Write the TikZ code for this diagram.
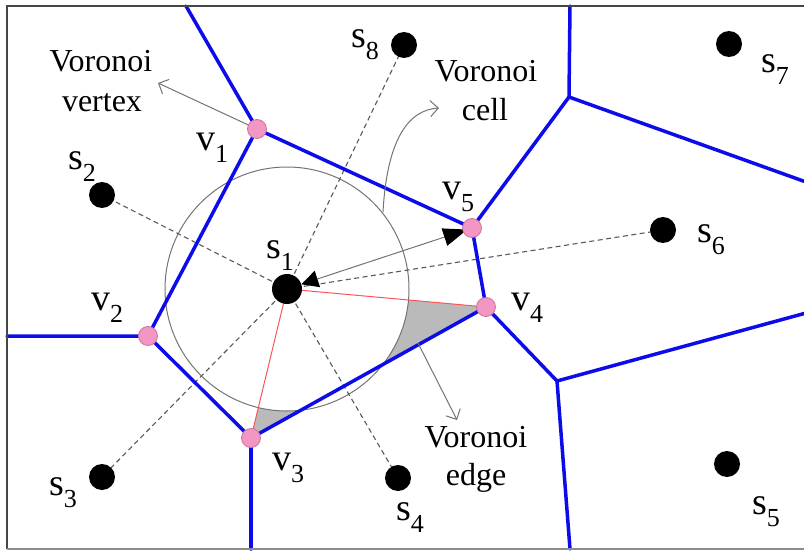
\documentclass[tikz,border=0pt]{standalone}
\usepackage{fontspec}
\setmainfont{Liberation Serif}
\usetikzlibrary{arrows.meta}
\definecolor{vblue}{RGB}{12,12,235}
\definecolor{vpink}{RGB}{242,150,196}
\definecolor{vpinkd}{RGB}{205,115,155}
\definecolor{vred}{RGB}{250,85,85}
\definecolor{frm}{RGB}{70,70,70}
\newcommand{\sublab}[2]{#1\raisebox{-12pt}{\fontsize{26}{28}\selectfont #2}}
\pgfdeclarelayer{bg}
\pgfsetlayers{bg,main}
\begin{document}
\begin{tikzpicture}[x=1pt,y=-1pt,
  vedge/.style={vblue, line width=3.5pt, line cap=round, line join=round},
  site/.style={circle, fill=black, inner sep=0pt, minimum size=26pt},
  bigsite/.style={circle, fill=black, inner sep=0pt, minimum size=30pt},
  vert/.style={circle, fill=vpink, draw=vpinkd, line width=0.8pt, inner sep=0pt, minimum size=19pt},
  dashln/.style={dash pattern=on 5pt off 3.5pt, line width=1.1pt, black!65},
  redln/.style={vred, line width=1pt},
  gln/.style={black!55, line width=1pt},
  lab/.style={font=\fontsize{38}{40}\selectfont, inner sep=0pt},
  txt/.style={font=\fontsize{32}{40}\selectfont, inner sep=0pt, anchor=base},
]
\useasboundingbox (0,0) rectangle (804,551);
% frame
\draw[frm, line width=1.8pt] (806,6) -- (7,6) -- (7,549);
\draw[black!45, line width=1.5pt] (7,549) -- (806,549);

% sites
\node[bigsite] (s1) at (287,289) {};
\node[site] (s2) at (102,195) {};
\node[site] (s3) at (102,477) {};
\node[site] (s4) at (398,478) {};
\node[site] (s5) at (727,464) {};
\node[site] (s6) at (663,230) {};
\node[site] (s7) at (729,44) {};
\node[site] (s8) at (404,45) {};

% Voronoi vertices
\node[vert] (v1) at (257,129) {};
\node[vert] (v2) at (148,336) {};
\node[vert] (v3) at (251,438) {};
\node[vert] (v4) at (486,307) {};
\node[vert] (v5) at (472,228) {};
\coordinate (A) at (569,97);
\coordinate (B) at (557,381);
\coordinate (e1) at (186,6);
\coordinate (e2) at (7,336);
\coordinate (e3) at (251,549);
\coordinate (e4) at (570,6);
\coordinate (e5) at (806,182);
\coordinate (e6) at (806,313);
\coordinate (e7) at (570,549);

\begin{pgfonlayer}{bg}
  % shaded parts of triangle s1 v3 v4 outside the circle
  \begin{scope}
    \clip (s1.center) -- (v3.center) -- (v4.center) -- cycle;
    \fill[black!27, even odd rule] (s1.center) circle (122) (0,0) rectangle (804,551);
  \end{scope}
  \draw[black!55, line width=1pt] (s1.center) circle (122);
  \draw[redln] (s1.center) -- (v3.center);
  \draw[redln] (s1.center) -- (v4.center);
  \draw[dashln] (s1.center) -- (s2.center);
  \draw[dashln] (s1.center) -- (s3.center);
  \draw[dashln] (s1.center) -- (s4.center);
  \draw[dashln] (s1.center) -- (s6.center);
  \draw[dashln] (s1.center) -- (s8.center);
  % Voronoi edges
  \draw[vedge] (e1) -- (v1.center) -- (v2.center) -- (e2);
  \draw[vedge] (v1.center) -- (v5.center) -- (v4.center) -- (v3.center) -- (v2.center);
  \draw[vedge] (v3.center) -- (e3);
  \draw[vedge] (v5.center) -- (A) -- (e4);
  \draw[vedge] (A) -- (e5);
  \draw[vedge] (v4.center) -- (B) -- (e6);
  \draw[vedge] (B) -- (e7);
  % annotation arrows
  \coordinate (vtip) at (158,83);
  \draw[gln, -{Straight Barb[length=8pt,width=16pt]}] (v1.center) -- (vtip);
  \coordinate (cA) at (383,212);
  \coordinate (cB) at (439,108);
  \draw[gln, -{Straight Barb[length=8pt,width=16pt]}] (cA) .. controls (387,140) and (408,110) .. (cB);
  \coordinate (eA) at (418,343);
  \coordinate (eB) at (457,420);
  \draw[gln, -{Straight Barb[length=8pt,width=16pt]}] (eA) -- (eB);
  \draw[gln, {Triangle[length=17pt,width=17pt,color=black]}-{Triangle[length=24pt,width=18pt,color=black]}, shorten <=15pt, shorten >=5pt] (s1.center) -- (v5.center);
\end{pgfonlayer}

% labels
\node[lab] (ls1) at (280,256) {\sublab{s}{1}};
\node[lab] (ls2) at (82,167) {\sublab{s}{2}};
\node[lab] (ls3) at (63,493) {\sublab{s}{3}};
\node[lab] (ls4) at (410,518) {\sublab{s}{4}};
\node[lab] (ls5) at (766,512) {\sublab{s}{5}};
\node[lab] (ls6) at (711,240) {\sublab{s}{6}};
\node[lab] (ls7) at (775,70) {\sublab{s}{7}};
\node[lab] (ls8) at (365,45) {\sublab{s}{8}};
\node[lab] (lv1) at (212,148) {\sublab{v}{1}};
\node[lab] (lv2) at (107,308) {\sublab{v}{2}};
\node[lab] (lv3) at (288,468) {\sublab{v}{3}};
\node[lab] (lv4) at (527,308) {\sublab{v}{4}};
\node[lab] (lv5) at (458,197) {\sublab{v}{5}};

\node[txt] (tv1) at (101,72) {Voronoi};
\node[txt] (tv2) at (102,112) {vertex};
\node[txt] (tc1) at (486,82) {Voronoi};
\node[txt] (tc2) at (485,121) {cell};
\node[txt] (te1) at (476,447) {Voronoi};
\node[txt] (te2) at (476,485) {edge};
\end{tikzpicture}
\end{document}
